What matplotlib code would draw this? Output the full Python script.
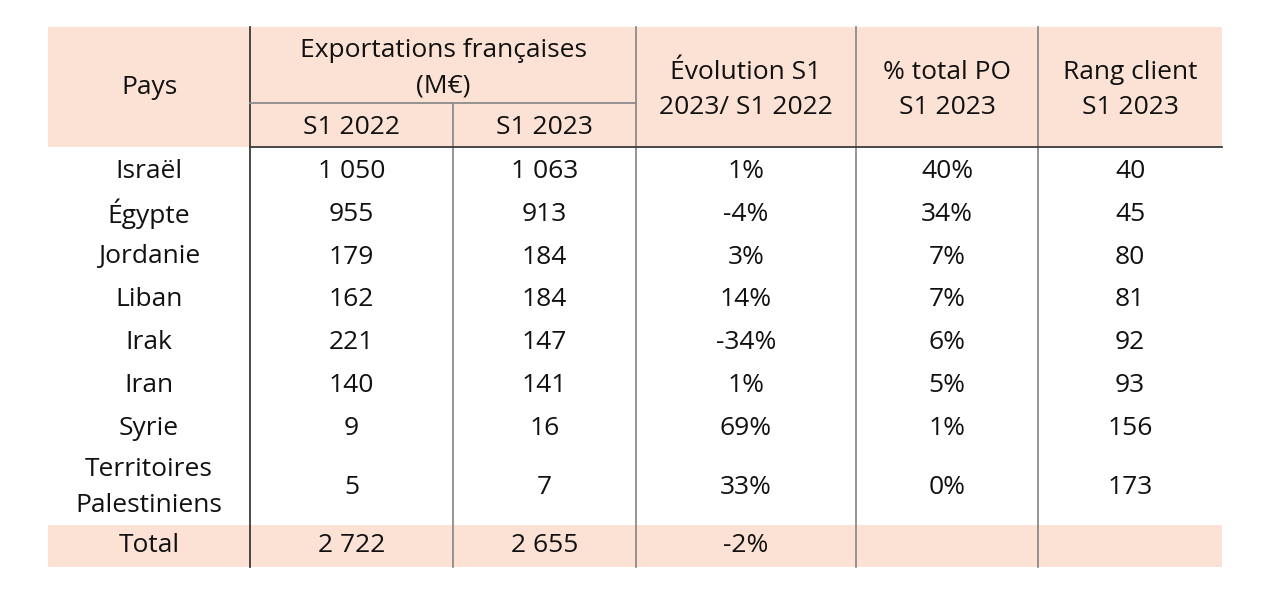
import matplotlib.pyplot as plt
from matplotlib.patches import Rectangle

# table content
pays = ["Israël", "Égypte", "Jordanie", "Liban", "Irak", "Iran", "Syrie",
        "Territoires\nPalestiniens"]
s1_2022 = ["1 050", "955", "179", "162", "221", "140", "9", "5"]
s1_2023 = ["1 063", "913", "184", "184", "147", "141", "16", "7"]
evolution = ["1%", "-4%", "3%", "14%", "-34%", "1%", "69%", "33%"]
part_po = ["40%", "34%", "7%", "7%", "6%", "5%", "1%", "0%"]
rang = ["40", "45", "80", "81", "92", "93", "156", "173"]
total_row = ["Total", "2 722", "2 655", "-2%", "", ""]

header_top = ["Pays", "Exportations françaises\n(M€)", "Évolution S1\n2023/ S1 2022",
              "% total PO\nS1 2023", "Rang client\nS1 2023"]
header_sub = ["S1 2022", "S1 2023"]

# layout in pixels
col_x = [48, 250, 453, 636, 856, 1038, 1222]
y_top, y_sub, y_head = 27, 103, 147
row_h = 42.8
y_rows = [150 + i * row_h for i in range(7)] + [450, 525, 567]

PINK = "#fbe2d5"
DARK = "#3a3a3a"
GRAY = "#8c8c8c"
TXT = "#111111"
FS = 19

fig = plt.figure(figsize=(12.8, 6.12), dpi=100)
ax = fig.add_axes([0, 0, 1, 1])
ax.set_xlim(0, 1280)
ax.set_ylim(612, 0)
ax.axis("off")

# backgrounds
ax.add_patch(Rectangle((col_x[0], y_top), col_x[-1] - col_x[0], y_head - y_top,
                       color=PINK, lw=0))
ax.add_patch(Rectangle((col_x[0], y_rows[8]), col_x[-1] - col_x[0],
                       y_rows[9] - y_rows[8], color=PINK, lw=0))


def cx(i):
    return (col_x[i] + col_x[i + 1]) / 2


def txt(x, y, s):
    ax.text(x, y, s, ha="center", va="center", fontsize=FS, color=TXT,
            family=["Open Sans", "DejaVu Sans"], linespacing=1.55)


# header
txt(cx(0), 88, header_top[0])
txt((col_x[1] + col_x[3]) / 2, 68, header_top[1])
for j, lab in enumerate(header_sub):
    txt(cx(1 + j), 128, lab)
for j, lab in enumerate(header_top[2:]):
    txt(cx(3 + j), 90, lab)

# body
columns = [pays, s1_2022, s1_2023, evolution, part_po, rang]
for i in range(len(pays)):
    yc = (y_rows[i] + y_rows[i + 1]) / 2
    for j, col in enumerate(columns):
        txt(cx(j), yc, col[i])
yc = (y_rows[8] + y_rows[9]) / 2
for j, val in enumerate(total_row):
    txt(cx(j), yc, val)

# grid lines
ax.plot([col_x[1], col_x[1]], [y_top, y_rows[-1]], color=DARK, lw=1.3)
ax.plot([col_x[2], col_x[2]], [y_sub, y_rows[-1]], color=GRAY, lw=1.3)
for x in col_x[3:6]:
    ax.plot([x, x], [y_top, y_rows[-1]], color=GRAY, lw=1.3)
ax.plot([col_x[1], col_x[3]], [y_sub, y_sub], color=GRAY, lw=1.3)
ax.plot([col_x[1], col_x[-1]], [y_head, y_head], color=DARK, lw=1.3)

fig.savefig("out.png", dpi=100)
